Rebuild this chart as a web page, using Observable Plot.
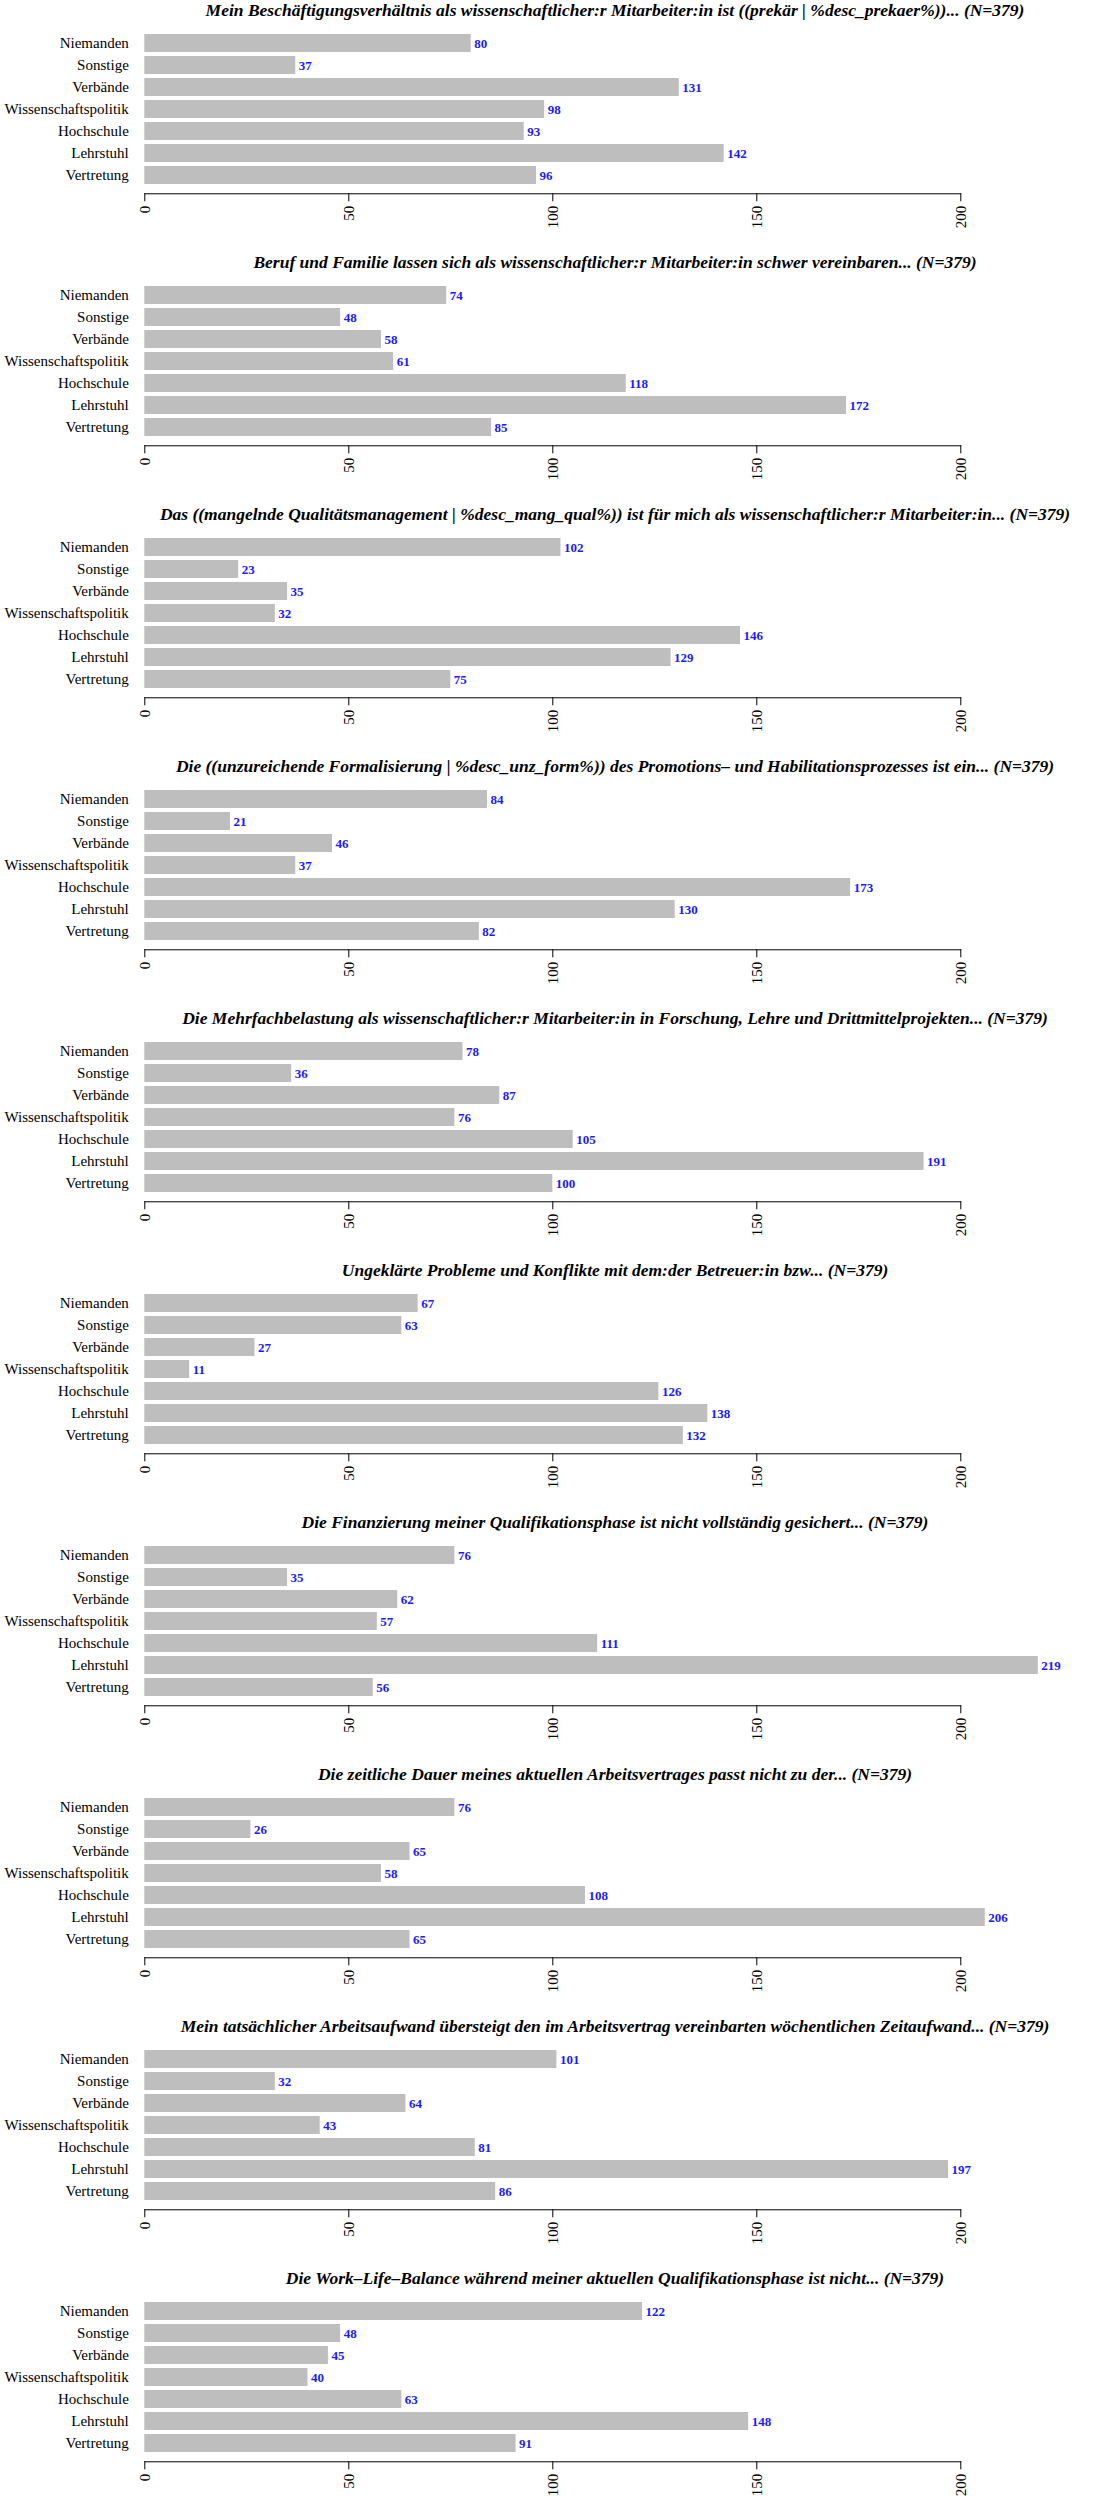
<!DOCTYPE html>
<html>
<head>
<meta charset="utf-8">
<script src="https://cdn.jsdelivr.net/npm/d3@7"></script>
<script src="https://cdn.jsdelivr.net/npm/@observablehq/plot@0.6"></script>
<style>
  html, body { margin: 0; padding: 0; background: #fff; }
  .panel { width: 1094px; height: 252px; overflow: hidden; position: relative; }
  .title {
    box-sizing: border-box; width: 1094px; height: 20px;
    padding-left: 144px; padding-right: 8px;
    text-align: center; white-space: nowrap;
    font-family: "Liberation Serif", serif; font-weight: bold; font-style: italic;
    font-size: 17.5px; line-height: 20px; color: #000;
  }
  svg { display: block; }
</style>
</head>
<body>
<div id="chart"></div>
<script>
const categories = ["Niemanden", "Sonstige", "Verbände", "Wissenschaftspolitik", "Hochschule", "Lehrstuhl", "Vertretung"];
const xTicks = [0, 50, 100, 150, 200];

const titles = [
  "Mein Beschäftigungsverhältnis als wissenschaftlicher:r Mitarbeiter:in ist ((prekär | %desc_prekaer%))... (N=379)",
  "Beruf und Familie lassen sich als wissenschaftlicher:r Mitarbeiter:in schwer vereinbaren... (N=379)",
  "Das ((mangelnde Qualitätsmanagement | %desc_mang_qual%)) ist für mich als wissenschaftlicher:r Mitarbeiter:in... (N=379)",
  "Die ((unzureichende Formalisierung | %desc_unz_form%)) des Promotions– und Habilitationsprozesses ist ein... (N=379)",
  "Die Mehrfachbelastung als wissenschaftlicher:r Mitarbeiter:in in Forschung, Lehre und Drittmittelprojekten... (N=379)",
  "Ungeklärte Probleme und Konflikte mit dem:der Betreuer:in bzw... (N=379)",
  "Die Finanzierung meiner Qualifikationsphase ist nicht vollständig gesichert... (N=379)",
  "Die zeitliche Dauer meines aktuellen Arbeitsvertrages passt nicht zu der... (N=379)",
  "Mein tatsächlicher Arbeitsaufwand übersteigt den im Arbeitsvertrag vereinbarten wöchentlichen Zeitaufwand... (N=379)",
  "Die Work–Life–Balance während meiner aktuellen Qualifikationsphase ist nicht... (N=379)"
];

const prekaer        = [80, 37, 131, 98, 93, 142, 96];
const berufFamilie   = [74, 48, 58, 61, 118, 172, 85];
const qualMangel     = [102, 23, 35, 32, 146, 129, 75];
const formalisierung = [84, 21, 46, 37, 173, 130, 82];
const mehrfach       = [78, 36, 87, 76, 105, 191, 100];
const konflikte      = [67, 63, 27, 11, 126, 138, 132];
const finanzierung   = [76, 35, 62, 57, 111, 219, 56];
const vertragsdauer  = [76, 26, 65, 58, 108, 206, 65];
const arbeitsaufwand = [101, 32, 64, 43, 81, 197, 86];
const workLife       = [122, 48, 45, 40, 63, 148, 91];

const series = [prekaer, berufFamilie, qualMangel, formalisierung, mehrfach,
                konflikte, finanzierung, vertragsdauer, arbeitsaufwand, workLife];

const root = document.getElementById("chart");
series.forEach((vals, k) => {
  const data = categories.map((c, i) => ({cat: c, value: vals[i]}));
  const panel = document.createElement("div");
  panel.className = "panel";
  const t = document.createElement("div");
  t.className = "title";
  t.textContent = titles[k];
  panel.appendChild(t);
  const svg = Plot.plot({
    width: 1094,
    height: 232,
    marginLeft: 144.3,
    marginRight: 133.7,
    marginTop: 0,
    marginBottom: 58.7,
    style: {fontFamily: "Liberation Serif, serif", fontSize: "15px", background: "#fff", color: "#000"},
    x: {domain: [0, 200]},
    y: {domain: categories, range: [10.7, 167.2], paddingInner: 0.167, paddingOuter: 0},
    marks: [
      Plot.barX(data, {x: "value", y: "cat", fill: "#bebebe"}),
      Plot.text(data, {x: "value", y: "cat", text: d => String(d.value), dx: 3, textAnchor: "start",
                       fill: "#1a1aff", fontSize: 13, fontWeight: "bold"}),
      Plot.frame({anchor: "bottom", stroke: "#000"}),
      Plot.axisX({ticks: xTicks, tickSize: 8, tickPadding: 4, tickRotate: -90, label: null,
                  tickFormat: d => String(d), fontSize: 15, stroke: "#000"}),
      Plot.axisY({tickSize: 0, tickPadding: 16, label: null, fontSize: 15})
    ]
  });
  panel.appendChild(svg);
  root.appendChild(panel);
});
</script>
</body>
</html>
